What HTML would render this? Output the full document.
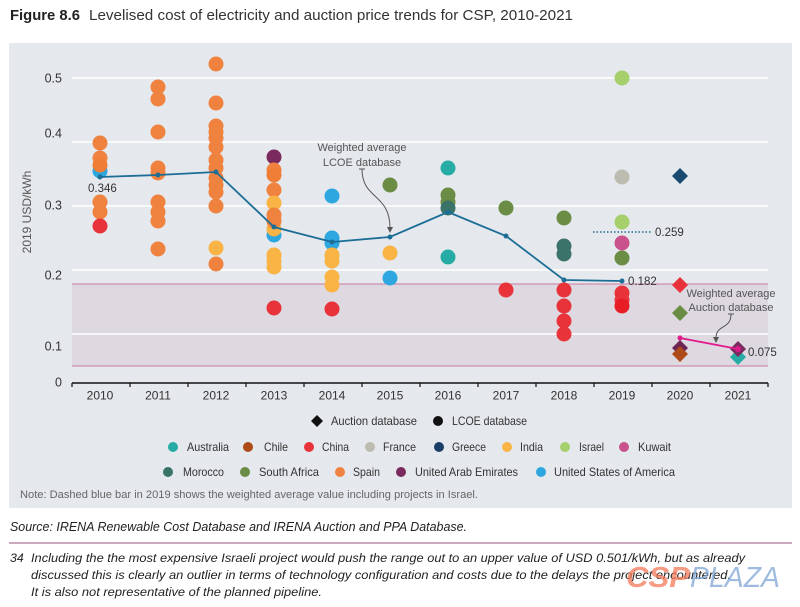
<!DOCTYPE html>
<html><head><meta charset="utf-8"><style>
html,body{margin:0;padding:0;background:#fff;}
svg{display:block;font-family:"Liberation Sans",sans-serif;}
</style></head><body>
<svg width="800" height="607" viewBox="0 0 800 607" xmlns="http://www.w3.org/2000/svg">
<rect x="0" y="0" width="800" height="607" fill="#fff"/>
<text x="10" y="20" font-size="15" font-weight="bold" fill="#222" textLength="70" lengthAdjust="spacingAndGlyphs">Figure 8.6</text>
<text x="89" y="20" font-size="15" fill="#333" textLength="484" lengthAdjust="spacingAndGlyphs">Levelised cost of electricity and auction price trends for CSP, 2010-2021</text>
<rect x="9" y="43" width="783" height="465" fill="#e5e8ec"/>
<!-- band -->
<rect x="72" y="284" width="696" height="82" fill="#ded8e0"/>
<g stroke="#fff" stroke-width="1.5">
<line x1="72" y1="78" x2="768" y2="78"/>
<line x1="72" y1="142" x2="768" y2="142"/>
<line x1="72" y1="206" x2="768" y2="206"/>
<line x1="72" y1="270" x2="768" y2="270"/>
<line x1="72" y1="334" x2="768" y2="334"/>
</g>
<line x1="72" y1="284" x2="768" y2="284" stroke="#c97aa0" stroke-width="1"/>
<line x1="72" y1="366" x2="768" y2="366" stroke="#c97aa0" stroke-width="1"/>
<!-- axis -->
<line x1="72" y1="383" x2="768" y2="383" stroke="#111" stroke-width="1.5"/>
<g stroke="#111" stroke-width="1.2">
<line x1="72" y1="383" x2="72" y2="387"/><line x1="130" y1="383" x2="130" y2="387"/><line x1="188" y1="383" x2="188" y2="387"/><line x1="246" y1="383" x2="246" y2="387"/><line x1="304" y1="383" x2="304" y2="387"/><line x1="362" y1="383" x2="362" y2="387"/><line x1="420" y1="383" x2="420" y2="387"/><line x1="478" y1="383" x2="478" y2="387"/><line x1="536" y1="383" x2="536" y2="387"/><line x1="594" y1="383" x2="594" y2="387"/><line x1="652" y1="383" x2="652" y2="387"/><line x1="710" y1="383" x2="710" y2="387"/><line x1="768" y1="383" x2="768" y2="387"/>
</g>
<g font-size="12.5" fill="#333" text-anchor="end">
<text x="62" y="82.5">0.5</text>
<text x="62" y="137.5">0.4</text>
<text x="62" y="209.5">0.3</text>
<text x="62" y="279.5">0.2</text>
<text x="62" y="350.5">0.1</text>
<text x="62" y="386.5">0</text>
</g>
<text transform="translate(31,212) rotate(-90)" font-size="12" fill="#555" text-anchor="middle">2019 USD/kWh</text>
<g font-size="12" fill="#333" text-anchor="middle">
<text x="100" y="399.5">2010</text><text x="158" y="399.5">2011</text><text x="216" y="399.5">2012</text><text x="274" y="399.5">2013</text><text x="332" y="399.5">2014</text><text x="390" y="399.5">2015</text><text x="448" y="399.5">2016</text><text x="506" y="399.5">2017</text><text x="564" y="399.5">2018</text><text x="622" y="399.5">2019</text><text x="680" y="399.5">2020</text><text x="738" y="399.5">2021</text>
</g>
<!-- dots -->
<g>
<g transform="translate(100,0)">
<circle cy="171" r="7.5" fill="#2ea7e0"/>
<circle cy="143" r="7.5" fill="#f0823f"/>
<circle cy="158" r="7.5" fill="#f0823f"/>
<circle cy="165" r="7.5" fill="#ef7d36"/>
<circle cy="202" r="7.5" fill="#f0823f"/>
<circle cy="212" r="7.5" fill="#f0823f"/>
<circle cy="226" r="7.5" fill="#e8333a"/>
</g>
<g transform="translate(158,0)" fill="#f0823f">
<circle cy="87" r="7.5"/><circle cy="99" r="7.5"/><circle cy="132" r="7.5"/><circle cy="168" r="7.5"/><circle cy="173" r="7.5"/><circle cy="202" r="7.5"/><circle cy="212" r="7.5"/><circle cy="221" r="7.5"/><circle cy="249" r="7.5"/>
</g>
<g transform="translate(216,0)">
<g fill="#f0823f">
<circle cy="64" r="7.5"/><circle cy="103" r="7.5"/><circle cy="126" r="7.5"/><circle cy="132" r="7.5"/><circle cy="138" r="7.5"/><circle cy="147" r="7.5"/><circle cy="160" r="7.5"/><circle cy="168" r="7.5"/><circle cy="178" r="7.5"/><circle cy="185" r="7.5"/><circle cy="192" r="7.5"/><circle cy="206" r="7.5"/><circle cy="264" r="7.5"/>
</g>
<circle cy="248" r="7.5" fill="#f9b445"/>
</g>
<g transform="translate(274,0)">
<circle cy="235" r="7.5" fill="#2ea7e0"/>
<circle cy="229" r="7.5" fill="#f9b445"/>
<circle cy="157" r="7.5" fill="#7a2a5e"/>
<circle cy="170" r="7.5" fill="#f0823f"/>
<circle cy="175" r="7.5" fill="#ef7d36"/>
<circle cy="190" r="7.5" fill="#f0823f"/>
<circle cy="203" r="7.5" fill="#f9b445"/>
<circle cy="215" r="7.5" fill="#f0823f"/>
<circle cy="221" r="7.5" fill="#f0823f"/>
<circle cy="255" r="7.5" fill="#f9b445"/>
<circle cy="261" r="7.5" fill="#f9b445"/>
<circle cy="267" r="7.5" fill="#f9b445"/>
<circle cy="308" r="7.5" fill="#e8333a"/>
</g>
<g transform="translate(332,0)">
<circle cy="196" r="7.5" fill="#2ea7e0"/>
<circle cy="238" r="7.5" fill="#2ea7e0"/>
<circle cy="243" r="7.5" fill="#2ea7e0"/>
<circle cy="255" r="7.5" fill="#f9b445"/>
<circle cy="261" r="7.5" fill="#f9b445"/>
<circle cy="277" r="7.5" fill="#f9b445"/>
<circle cy="285" r="7.5" fill="#f9b445"/>
<circle cy="309" r="7.5" fill="#e8333a"/>
</g>
<g transform="translate(390,0)">
<circle cy="185" r="7.5" fill="#6a8c44"/>
<circle cy="253" r="7.5" fill="#f9b445"/>
<circle cy="278" r="7.5" fill="#2ea7e0"/>
</g>
<g transform="translate(448,0)">
<circle cy="168" r="7.5" fill="#26aca4"/>
<circle cy="195" r="7.5" fill="#6a8c44"/>
<circle cy="202" r="7.5" fill="#6a8c44"/>
<circle cy="208" r="7.5" fill="#3b7269"/>
<circle cy="257" r="7.5" fill="#26aca4"/>
</g>
<g transform="translate(506,0)">
<circle cy="208" r="7.5" fill="#6a8c44"/>
<circle cy="290" r="7.5" fill="#e8333a"/>
</g>
<g transform="translate(564,0)">
<circle cy="218" r="7.5" fill="#6a8c44"/>
<circle cy="246" r="7.5" fill="#3b7269"/>
<circle cy="254" r="7.5" fill="#3b7269"/>
<circle cy="290" r="7.5" fill="#e8333a"/>
<circle cy="306" r="7.5" fill="#e8333a"/>
<circle cy="321" r="7.5" fill="#e8333a"/>
<circle cy="334" r="7.5" fill="#e8333a"/>
</g>
<g transform="translate(622,0)">
<circle cy="78" r="7.5" fill="#a5d06c"/>
<circle cy="177" r="7.5" fill="#bdbcb0"/>
<circle cy="222" r="7.5" fill="#a5d06c"/>
<circle cy="243" r="7.5" fill="#c9528c"/>
<circle cy="258" r="7.5" fill="#6a8c44"/>
<circle cy="293" r="7.5" fill="#e8333a"/>
<circle cy="300" r="7.5" fill="#e8333a"/>
<circle cy="306" r="7.5" fill="#e81e26"/>
</g>
<g transform="translate(680,0)">
<path d="M0,168 L8,176 L0,184 L-8,176 Z" fill="#1a4a6e"/>
<path d="M0,277 L8,285 L0,293 L-8,285 Z" fill="#e8333a"/>
<path d="M0,305 L8,313 L0,321 L-8,313 Z" fill="#6a8c44"/>
<path d="M0,340 L8,348 L0,356 L-8,348 Z" fill="#6e2455"/>
<path d="M0,346 L8,354 L0,362 L-8,354 Z" fill="#ae4a17"/>
</g>
<g transform="translate(738,0)">
<path d="M0,349 L8,357 L0,365 L-8,357 Z" fill="#26aca4"/>
<path d="M0,341 L8,349 L0,357 L-8,349 Z" fill="#7a2a5e"/>
</g>
</g>
<polyline points="100,177 158,175 216,172 274,227 332,242 390,237 448,212 506,236 564,280 622,281" fill="none" stroke="#1c6e97" stroke-width="1.8"/>
<g fill="#1c6e97">
<circle cx="100" cy="177" r="2.5"/><circle cx="158" cy="175" r="2.5"/><circle cx="216" cy="172" r="2.5"/><circle cx="274" cy="227" r="2.5"/><circle cx="332" cy="242" r="2.5"/><circle cx="390" cy="237" r="2.5"/><circle cx="448" cy="212" r="2.5"/><circle cx="506" cy="236" r="2.5"/><circle cx="564" cy="280" r="2.5"/><circle cx="622" cy="281" r="2.5"/>
</g>
<line x1="593" y1="232" x2="652" y2="232" stroke="#1c6e97" stroke-width="1.5" stroke-dasharray="1.5 2"/>
<line x1="680" y1="338" x2="738" y2="349" stroke="#e0198a" stroke-width="1.8"/>
<circle cx="680" cy="338" r="2.5" fill="#e0198a"/>
<circle cx="738" cy="349" r="3" fill="#e0198a"/>
<g font-size="11.5" fill="#333">
<text x="88" y="192">0.346</text>
<text x="628" y="285">0.182</text>
<text x="655" y="236">0.259</text>
<text x="748" y="356">0.075</text>
</g>
<g font-size="11" fill="#555" text-anchor="middle">
<text x="362" y="151">Weighted average</text>
<text x="362" y="166">LCOE database</text>
<text x="731" y="297">Weighted average</text>
<text x="731" y="311">Auction database</text>
</g>
<g fill="none" stroke="#555" stroke-width="1">
<path d="M359,169 L365,169 M362,169 C362,200 390,193 390,228"/>
<path d="M728,314 L734,314 M731,314 C731,330 716,324 716,338"/>
</g>
<path d="M387,227 L393,227 L390,233 Z" fill="#555"/>
<path d="M713,337 L719,337 L716,343 Z" fill="#555"/>
<!-- legend -->
<g font-size="12" fill="#333" lengthAdjust="spacingAndGlyphs">
<path d="M317,415 L323,421 L317,427 L311,421 Z" fill="#111"/>
<text x="331" y="425" textLength="86" lengthAdjust="spacingAndGlyphs">Auction database</text>
<circle cx="438" cy="421" r="5" fill="#111"/>
<text x="452" y="425" textLength="75" lengthAdjust="spacingAndGlyphs">LCOE database</text>

<circle cx="173" cy="447" r="5" fill="#26aca4"/><text x="187" y="451" textLength="42" lengthAdjust="spacingAndGlyphs">Australia</text>
<circle cx="248" cy="447" r="5" fill="#ae4a17"/><text x="264" y="451" textLength="24" lengthAdjust="spacingAndGlyphs">Chile</text>
<circle cx="309" cy="447" r="5" fill="#e8333a"/><text x="322" y="451" textLength="27" lengthAdjust="spacingAndGlyphs">China</text>
<circle cx="370" cy="447" r="5" fill="#bdbcb0"/><text x="383" y="451" textLength="33" lengthAdjust="spacingAndGlyphs">France</text>
<circle cx="439" cy="447" r="5" fill="#1a3e66"/><text x="452" y="451" textLength="34" lengthAdjust="spacingAndGlyphs">Greece</text>
<circle cx="507" cy="447" r="5" fill="#f9b445"/><text x="520" y="451" textLength="23" lengthAdjust="spacingAndGlyphs">India</text>
<circle cx="565" cy="447" r="5" fill="#a5d06c"/><text x="579" y="451" textLength="25" lengthAdjust="spacingAndGlyphs">Israel</text>
<circle cx="624" cy="447" r="5" fill="#c9528c"/><text x="638" y="451" textLength="33" lengthAdjust="spacingAndGlyphs">Kuwait</text>

<circle cx="168" cy="472" r="5" fill="#3b7269"/><text x="183" y="476" textLength="41" lengthAdjust="spacingAndGlyphs">Morocco</text>
<circle cx="245" cy="472" r="5" fill="#6a8c44"/><text x="259" y="476" textLength="60" lengthAdjust="spacingAndGlyphs">South Africa</text>
<circle cx="340" cy="472" r="5" fill="#f0823f"/><text x="353" y="476" textLength="27" lengthAdjust="spacingAndGlyphs">Spain</text>
<circle cx="401" cy="472" r="5" fill="#7a2a5e"/><text x="415" y="476" textLength="103" lengthAdjust="spacingAndGlyphs">United Arab Emirates</text>
<circle cx="541" cy="472" r="5" fill="#2ea7e0"/><text x="554" y="476" textLength="121" lengthAdjust="spacingAndGlyphs">United States of America</text>
</g>
<text x="20" y="498" font-size="11" fill="#666" textLength="458" lengthAdjust="spacingAndGlyphs">Note: Dashed blue bar in 2019 shows the weighted average value including projects in Israel.</text>
<text x="10" y="531" font-size="12.5" font-style="italic" fill="#222" textLength="457" lengthAdjust="spacingAndGlyphs">Source: IRENA Renewable Cost Database and IRENA Auction and PPA Database.</text>
<line x1="9" y1="543" x2="792" y2="543" stroke="#b88ea6" stroke-width="1.5"/>
<g font-size="12.3" font-style="italic" fill="#222">
<text x="10" y="562">34</text>
<text x="31" y="562" textLength="714" lengthAdjust="spacingAndGlyphs">Including the the most expensive Israeli project would push the range out to an upper value of USD 0.501/kWh, but as already</text>
<text x="31" y="579" textLength="700" lengthAdjust="spacingAndGlyphs">discussed this is clearly an outlier in terms of technology configuration and costs due to the delays the project encountered.</text>
<text x="31" y="596" textLength="291" lengthAdjust="spacingAndGlyphs">It is also not representative of the planned pipeline.</text>
</g>
<g font-size="29" font-style="italic" font-weight="bold" opacity="0.75">
<text x="626" y="587" fill="#f47a5a" textLength="64" lengthAdjust="spacingAndGlyphs">CSP</text>
<text x="690" y="587" fill="#7fa6d6" font-weight="normal" textLength="90" lengthAdjust="spacingAndGlyphs">PLAZA</text>
</g>
</svg>
</body></html>
